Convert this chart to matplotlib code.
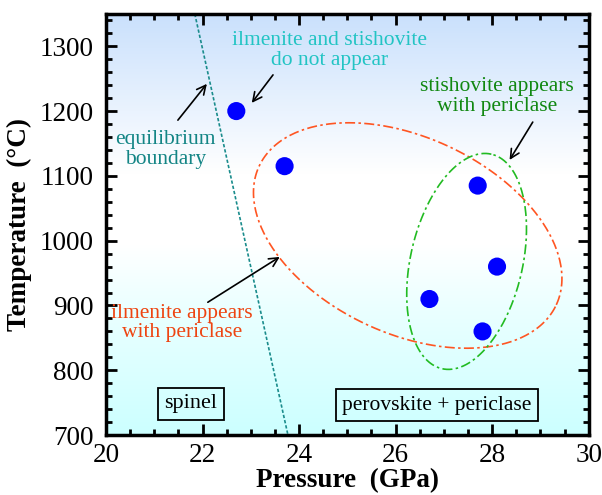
import numpy as np
import matplotlib
matplotlib.use("Agg")
import matplotlib.pyplot as plt
from matplotlib.colors import LinearSegmentedColormap
from matplotlib.ticker import MultipleLocator

plt.rcParams['font.family'] = ['Liberation Serif', 'DejaVu Serif']

# data
pressure = [22.7, 23.7, 27.7, 28.1, 26.7, 27.8]
temperature = [1200, 1115, 1085, 960, 910, 860]
boundary_P = [21.84, 23.77]
boundary_T = [1350, 700]

xlim = (20, 30)
ylim = (700, 1350)

fig = plt.figure(figsize=(6.02, 4.95), dpi=100)
ax = fig.add_axes([0.176, 0.121, 0.802, 0.851])
ax.set_xlim(*xlim)
ax.set_ylim(*ylim)

# background gradient
cmap = LinearSegmentedColormap.from_list('bg', [
    (0.0, (0.80, 1.0, 1.0)),
    (0.30, (0.92, 1.0, 1.0)),
    (0.45, (1.0, 1.0, 1.0)),
    (0.62, (1.0, 1.0, 1.0)),
    (1.0, (0.79, 0.88, 0.99)),
])
grad = np.linspace(0, 1, 256).reshape(-1, 1)
ax.imshow(grad, cmap=cmap, origin='lower', aspect='auto',
          extent=[xlim[0], xlim[1], ylim[0], ylim[1]], zorder=0)

# boundary line
ax.plot(boundary_P, boundary_T, color='#1a8c8c', lw=1.2,
        linestyle=(0, (2, 1.2)), zorder=2)

# ellipses (computed in pixel-like space)
px_per_P = 48.3
px_per_T = 421 / 650.0

def ellipse(cP, cT, a, b, ang):
    t = np.linspace(0, 2 * np.pi, 400)
    th = np.deg2rad(ang)
    u = a * np.cos(t)
    v = b * np.sin(t)
    x = u * np.cos(th) - v * np.sin(th)
    y = u * np.sin(th) + v * np.cos(th)
    return cP + x / px_per_P, cT + y / px_per_T

eP, eT = ellipse(26.25, 1008, 164, 98, -25)
ax.plot(eP, eT, color='#ff5522', lw=1.2, linestyle=(0, (6, 2, 1.5, 2)), zorder=3)
gP, gT = ellipse(27.47, 968, 110, 56, 77)
ax.plot(gP, gT, color='#22bb22', lw=1.2, linestyle=(0, (6, 2, 1.5, 2)), zorder=3)

# points
ax.scatter(pressure, temperature, s=170, color='#0000ff', zorder=5, edgecolors='none')

# annotations
fs = 15.5
ls = 1.05
ax.text(24.64, 1294, 'ilmenite and stishovite\ndo not appear', color='#22c4c4',
        ha='center', va='center', fontsize=fs, linespacing=ls, zorder=6)
ax.text(21.24, 1141, 'equilibrium\nboundary', color='#138585',
        ha='center', va='center', fontsize=fs, linespacing=ls, zorder=6)
ax.text(28.10, 1222, 'stishovite appears\nwith periclase', color='#118811',
        ha='center', va='center', fontsize=fs, linespacing=ls, zorder=6)
ax.text(21.57, 873, 'ilmenite appears\nwith periclase', color='#ee4411',
        ha='center', va='center', fontsize=fs, linespacing=ls, zorder=6)

arrow = dict(arrowstyle='->', color='black', lw=1.2, mutation_scale=16,
             shrinkA=0, shrinkB=0)
ax.annotate('', xy=(23.02, 1212.6), xytext=(23.46, 1255.8), arrowprops=arrow, zorder=6)
ax.annotate('', xy=(22.09, 1242), xytext=(21.49, 1186), arrowprops=arrow, zorder=6)
ax.annotate('', xy=(28.36, 1124.6), xytext=(28.84, 1183), arrowprops=arrow, zorder=6)
ax.annotate('', xy=(23.60, 975), xytext=(22.11, 905), arrowprops=arrow, zorder=6)

ax.text(21.76, 748, 'spinel', ha='center', va='center', fontsize=16,
        bbox=dict(boxstyle='square,pad=0.3', facecolor='none', edgecolor='black', lw=1.3),
        zorder=6)
ax.text(26.85, 746, 'perovskite + periclase', ha='center', va='center', fontsize=15.5,
        bbox=dict(boxstyle='square,pad=0.3', facecolor='none', edgecolor='black', lw=1.3),
        zorder=6)

# axes styling
ax.xaxis.set_major_locator(MultipleLocator(2))
ax.xaxis.set_minor_locator(MultipleLocator(0.5))
ax.yaxis.set_major_locator(MultipleLocator(100))
ax.yaxis.set_minor_locator(MultipleLocator(20))
ax.tick_params(which='both', direction='in', top=True, right=True, width=2)
ax.tick_params(which='major', length=8, labelsize=19.5)
ax.tick_params(axis='x', which='major', pad=6)
ax.tick_params(axis='y', which='major', pad=9)
ax.tick_params(which='minor', length=4)
for sp in ax.spines.values():
    sp.set_linewidth(2.5)
    sp.set_zorder(10)

ax.set_xlabel('Pressure  (GPa)', fontsize=19.5, fontweight='bold', labelpad=0)
ax.set_ylabel('Temperature  (°C)', fontsize=19.5, fontweight='bold', labelpad=5)

fig.savefig('out.png', dpi=100)
